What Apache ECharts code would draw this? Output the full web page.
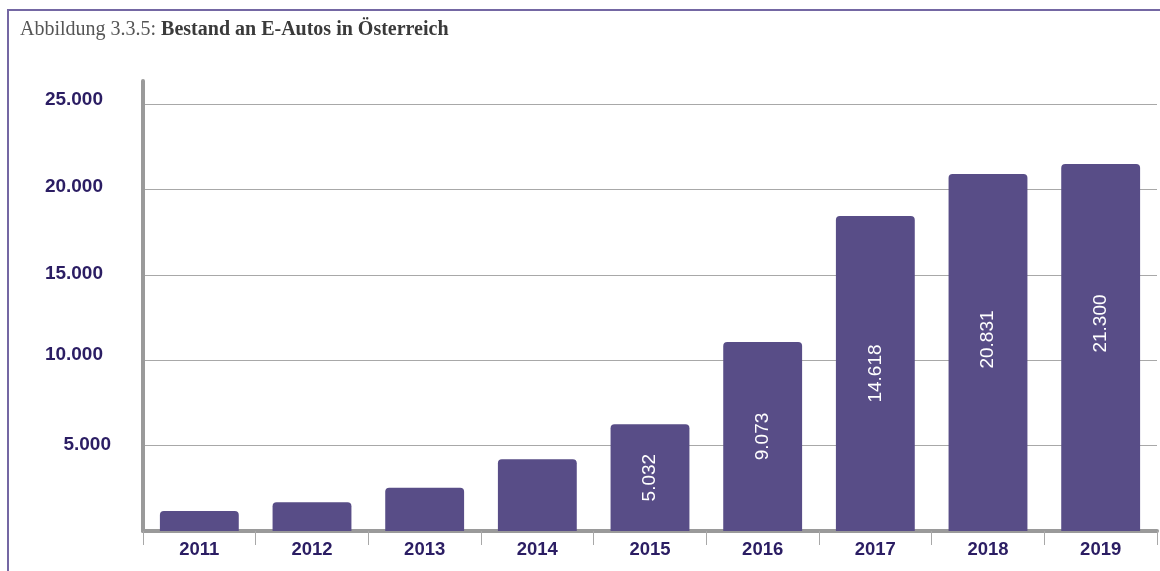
<!DOCTYPE html>
<html>
<head>
<meta charset="utf-8">
<script src="https://cdn.jsdelivr.net/npm/echarts@6/dist/echarts.min.js"></script>
<style>
  html, body { margin: 0; padding: 0; background: #fff; }
  #frame { position: absolute; left: 7px; top: 9px; width: 1153px; height: 562px;
           border-top: 2px solid #7467a3; border-left: 2px solid #7467a3; box-sizing: border-box; }
  #chart { position: absolute; left: 0; top: 0; width: 1160px; height: 571px; }
</style>
</head>
<body>
<div id="frame"></div>
<div id="chart"></div>
<script>
// Data
const years = ['2011', '2012', '2013', '2014', '2015', '2016', '2017', '2018', '2019'];
// bar heights as drawn in the picture
const barHeights = [1170, 1680, 2535, 4200, 6250, 11070, 18440, 20900, 21490];
// printed labels inside the bars (empty = no label)
const barLabels = ['', '', '', '', '5.032', '9.073', '14.618', '20.831', '21.300'];
const yTicks = [0, 5000, 10000, 15000, 20000, 25000];

const chart = echarts.init(document.getElementById('chart'), null, { renderer: 'canvas' });

const labelShift = { '2018': 13, '2019': 24 };
// small per-label nudges of the y-axis tick labels seen in the reference
const yLabelStyle = {
  25000: { padding: [0, 8, 9, 0] },
  20000: { padding: [0, 8, 6, 0] },
  15000: { padding: [0, 8, 3, 0] },
  10000: { padding: [0, 8, 10, 0] },
  5000:  { padding: [0, 0, 1, 0] }
};
const yRich = {};
Object.keys(yLabelStyle).forEach(k => {
  yRich['v' + k] = Object.assign({
    fontFamily: 'Liberation Sans', fontWeight: 'bold', fontSize: 19, color: '#2b1d63'
  }, yLabelStyle[k]);
});

const fmt = v => v.toLocaleString('de-DE');

const option = {
  animation: false,
  title: {
    left: 15, top: 15,
    text: '{a|Abbildung 3.3.5: }{b|Bestand an E-Autos in Österreich}',
    textStyle: {
      rich: {
        a: { fontFamily: 'Liberation Serif', fontSize: 20, fontWeight: 'normal', color: '#555555' },
        b: { fontFamily: 'Liberation Serif', fontSize: 20, fontWeight: 'bold', color: '#3a3a3a' }
      }
    }
  },
  grid: { left: 143, right: 3, top: 81, bottom: 40 },
  xAxis: {
    type: 'category',
    data: years,
    boundaryGap: true,
    axisLine: { show: true, lineStyle: { color: '#9a9a9a', width: 4 } },
    axisTick: { show: true, length: 14, lineStyle: { color: '#a8a8a8', width: 1 } },
    axisLabel: { margin: 9, fontFamily: 'Liberation Sans', fontWeight: 'bold', fontSize: 18.5, color: '#2b1d63' }
  },
  yAxis: {
    type: 'value',
    min: 0,
    max: 26350,
    interval: 5000,
    axisLine: { show: true, lineStyle: { color: '#9a9a9a', width: 4 } },
    axisTick: { show: false },
    splitLine: { show: true, showMaxLine: false, showMinLine: false, lineStyle: { color: '#a8a8a8', width: 1 } },
    axisLabel: {
      showMaxLabel: false,
      margin: 32,
      rich: yRich,
      formatter: v => (v > 0 && yTicks.indexOf(v) >= 0 ? '{v' + v + '|' + fmt(v) + '}' : '')
    }
  },
  series: [{
    type: 'bar',
    barWidth: '70%',
    itemStyle: { color: '#584d87', borderRadius: [4, 4, 0, 0] },
    data: barHeights.map((v, i) => ({
      value: v,
      label: {
        show: barLabels[i] !== '',
        position: 'inside',
        rotate: 90,
        offset: [labelShift[years[i]] || 0, 0],
        formatter: () => barLabels[i],
        fontFamily: 'Liberation Sans',
        fontSize: 19,
        color: '#ffffff'
      }
    }))
  }]
};

chart.setOption(option);
</script>
</body>
</html>
